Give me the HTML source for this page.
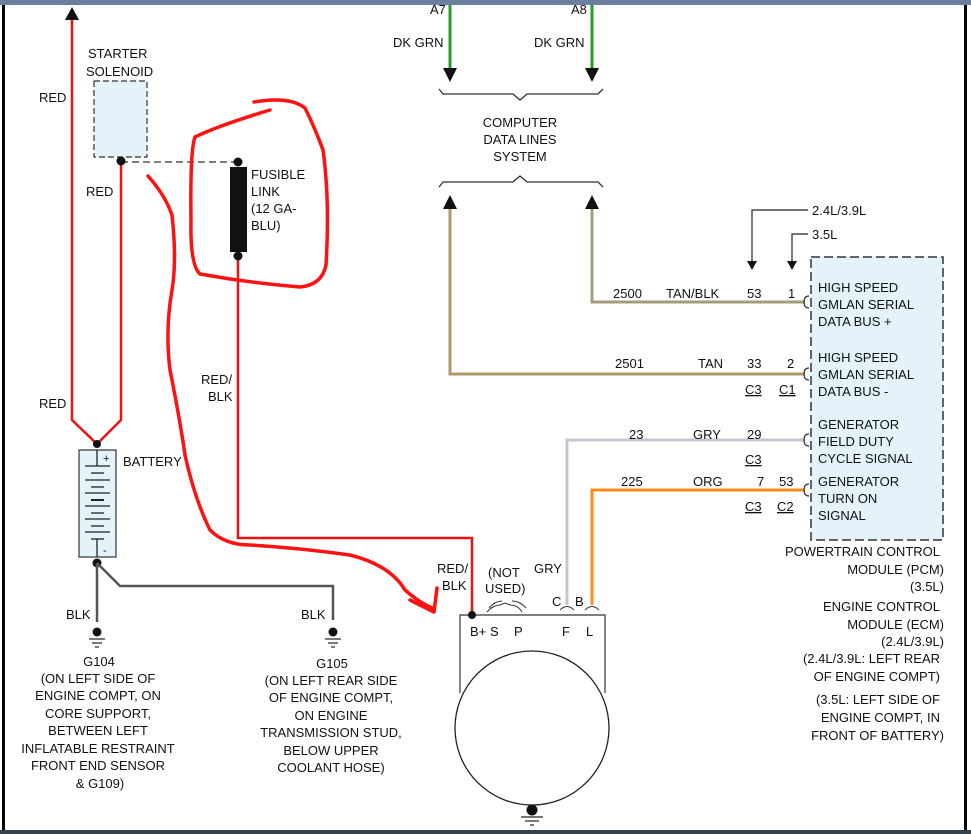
<!DOCTYPE html>
<html><head><meta charset="utf-8"><style>
body{margin:0;background:#fff;}
svg{display:block;font-family:"Liberation Sans",Arial,sans-serif;font-size:13px;fill:#111;}
</style></head><body>
<svg width="971" height="834" viewBox="0 0 971 834">
<rect x="0" y="0" width="971" height="5" fill="#6b7f9f"/>
<rect x="0" y="830" width="971" height="4" fill="#34404c"/>
<rect x="2" y="5" width="3" height="825" fill="#000"/>
<rect x="964" y="5" width="3" height="825" fill="#000"/>
<!-- green -->
<g stroke="#2a9a2a" stroke-width="3"><line x1="450" y1="5" x2="450" y2="70"/><line x1="592" y1="5" x2="592" y2="70"/></g>
<polygon points="443,68 457,68 450,82"/><polygon points="585,68 599,68 592,82"/>
<text x="430" y="14">A7</text><text x="571" y="14">A8</text>
<text x="393" y="47">DK GRN</text><text x="534" y="47">DK GRN</text>
<g fill="none" stroke="#333" stroke-width="1.3">
<path d="M439,89 L443,94 L513,94 L520,100 L527,94 L598,94 L603,89"/>
<path d="M439,187 L443,182 L513,182 L520,176 L527,182 L598,182 L603,187"/>
</g>
<text x="520" y="127" text-anchor="middle">COMPUTER</text>
<text x="520" y="144" text-anchor="middle">DATA LINES</text>
<text x="520" y="161" text-anchor="middle">SYSTEM</text>
<!-- tan wires -->
<polygon points="443,209 457,209 450,195"/><polygon points="585,209 599,209 592,195"/>
<g fill="none" stroke-width="3">
<path d="M450,209 L450,374 L805,374" stroke="#b09a6a"/>
<path d="M592,209 L592,302 L805,302" stroke="#a89a78"/>
<path d="M567,605 L567,440 L805,440" stroke="#c8c4d0"/>
<path d="M592,605 L592,490 L805,490" stroke="#ff8c1a"/>
</g>
<!-- pointers -->
<g fill="none" stroke="#222" stroke-width="1.2"><path d="M808,210 L752,210 L752,262"/><path d="M808,234 L792,234 L792,262"/></g>
<polygon points="747,261 757,261 752,270"/><polygon points="787,261 797,261 792,270"/>
<text x="812" y="215">2.4L/3.9L</text><text x="812" y="239">3.5L</text>
<!-- PCM -->
<rect x="811" y="257" width="132" height="283" fill="#e4f2fa" stroke="#333" stroke-width="1.5" stroke-dasharray="9,4"/>
<g fill="none" stroke="#333" stroke-width="1.2">
<path d="M809,296 Q804,296 804,302 Q804,308 809,308"/><path d="M809,368 Q804,368 804,374 Q804,380 809,380"/>
<path d="M809,434 Q804,434 804,440 Q804,446 809,446"/><path d="M809,484 Q804,484 804,490 Q804,496 809,496"/>
</g>
<g>
<text x="818" y="292">HIGH SPEED</text><text x="818" y="309">GMLAN SERIAL</text><text x="818" y="326">DATA BUS +</text>
<text x="818" y="362">HIGH SPEED</text><text x="818" y="379">GMLAN SERIAL</text><text x="818" y="396">DATA BUS -</text>
<text x="818" y="429">GENERATOR</text><text x="818" y="446">FIELD DUTY</text><text x="818" y="463">CYCLE SIGNAL</text>
<text x="818" y="486">GENERATOR</text><text x="818" y="503">TURN ON</text><text x="818" y="520">SIGNAL</text>
</g>
<g>
<text x="613" y="298">2500</text><text x="666" y="298">TAN/BLK</text><text x="747" y="298">53</text><text x="788" y="298">1</text>
<text x="615" y="368">2501</text><text x="698" y="368">TAN</text><text x="747" y="368">33</text><text x="787" y="368">2</text>
<text x="745" y="394" text-decoration="underline">C3</text><text x="779" y="394" text-decoration="underline">C1</text>
<text x="629" y="439">23</text><text x="693" y="439">GRY</text><text x="747" y="439">29</text>
<text x="745" y="464" text-decoration="underline">C3</text>
<text x="621" y="486">225</text><text x="693" y="486">ORG</text><text x="757" y="486">7</text><text x="779" y="486">53</text>
<text x="745" y="511" text-decoration="underline">C3</text><text x="777" y="511" text-decoration="underline">C2</text>
</g>
<g text-anchor="end">
<text x="940" y="556">POWERTRAIN CONTROL</text><text x="944" y="574">MODULE (PCM)</text><text x="944" y="591">(3.5L)</text>
<text x="940" y="611">ENGINE CONTROL</text><text x="944" y="629">MODULE (ECM)</text><text x="944" y="646">(2.4L/3.9L)</text>
<text x="940" y="663">(2.4L/3.9L: LEFT REAR</text><text x="940" y="681">OF ENGINE COMPT)</text>
<text x="940" y="704">(3.5L: LEFT SIDE OF</text><text x="940" y="722">ENGINE COMPT, IN</text><text x="944" y="740">FRONT OF BATTERY)</text>
</g>
<!-- left red wires -->
<g fill="none" stroke="#ee1111" stroke-width="2.5">
<path d="M72,18 L72,420 L97,444 L121,420 L121,162"/>
<path d="M238,256 L238,538 L472,538 L472,615"/>
</g>
<polygon points="65,20 79,20 72,7"/>
<text x="39" y="102">RED</text><text x="86" y="196">RED</text><text x="39" y="408">RED</text>
<rect x="94" y="81" width="53" height="76" fill="#e4f2fa" stroke="#333" stroke-width="1.2" stroke-dasharray="6,3"/>
<text x="88" y="58">STARTER</text><text x="86" y="76">SOLENOID</text>
<line x1="121" y1="162" x2="238" y2="162" stroke="#333" stroke-width="1.2" stroke-dasharray="7,4"/>
<circle cx="121" cy="161" r="4.5"/><circle cx="238" cy="162" r="4.5"/>
<rect x="230" y="167" width="17" height="85"/><circle cx="238" cy="256" r="4.5"/>
<text x="251" y="179">FUSIBLE</text><text x="251" y="196">LINK</text><text x="251" y="213">(12 GA-</text><text x="251" y="230">BLU)</text>
<text x="201" y="384">RED/</text><text x="208" y="401">BLK</text>
<!-- battery -->
<rect x="79" y="450" width="37" height="107" fill="#e4f2fa" stroke="#333" stroke-width="1.2"/>
<g stroke="#222" stroke-width="1.3">
<line x1="97" y1="450" x2="97" y2="466"/><line x1="85" y1="466" x2="110" y2="466"/>
<line x1="91" y1="473" x2="104" y2="473"/><line x1="85" y1="480" x2="110" y2="480"/>
<line x1="91" y1="487" x2="104" y2="487"/><line x1="85" y1="493" x2="110" y2="493"/>
<line x1="91" y1="500" x2="104" y2="500" stroke-width="2"/><line x1="85" y1="506" x2="110" y2="506"/>
<line x1="91" y1="513" x2="104" y2="513"/><line x1="85" y1="519" x2="110" y2="519"/>
<line x1="91" y1="526" x2="104" y2="526"/><line x1="85" y1="532" x2="110" y2="532"/>
<line x1="91" y1="539" x2="104" y2="539"/><line x1="97" y1="539" x2="97" y2="557"/>
</g>
<text x="103" y="462" font-size="11">+</text><text x="103" y="554" font-size="11">-</text>
<text x="123" y="466">BATTERY</text>
<circle cx="97" cy="444" r="4"/><circle cx="97" cy="563" r="4.5"/>
<path d="M97,563 L97,622 M97,563 L120,586 L333,586 L333,620" fill="none" stroke="#555" stroke-width="2.5"/>
<text x="66" y="619">BLK</text><text x="301" y="619">BLK</text>
<g stroke="#222" stroke-width="1.2"><line x1="89" y1="639" x2="105" y2="639"/><line x1="92" y1="643" x2="102" y2="643"/><line x1="95" y1="647" x2="99" y2="647"/>
<line x1="325" y1="639" x2="341" y2="639"/><line x1="328" y1="643" x2="338" y2="643"/><line x1="331" y1="647" x2="335" y2="647"/></g>
<circle cx="97" cy="632" r="4.5"/><circle cx="333" cy="632" r="4.5"/>
<g text-anchor="middle">
<text x="99" y="666">G104</text><text x="98" y="683">(ON LEFT SIDE OF</text><text x="98" y="700">ENGINE COMPT, ON</text>
<text x="98" y="718">CORE SUPPORT,</text><text x="98" y="735">BETWEEN LEFT</text><text x="98" y="753">INFLATABLE RESTRAINT</text>
<text x="98" y="770">FRONT END SENSOR</text><text x="100" y="788">&amp; G109)</text>
<text x="332" y="668">G105</text><text x="331" y="685">(ON LEFT REAR SIDE</text><text x="331" y="702">OF ENGINE COMPT,</text>
<text x="331" y="720">ON ENGINE</text><text x="331" y="737">TRANSMISSION STUD,</text><text x="331" y="755">BELOW UPPER</text><text x="331" y="772">COOLANT HOSE)</text>
</g>
<!-- alternator -->
<path d="M460,693 L460,615 L605,615 L605,693" fill="none" stroke="#333" stroke-width="1.2"/>
<circle cx="532" cy="728" r="77" fill="#fff" stroke="#222" stroke-width="1.3"/>
<circle cx="532" cy="810" r="5.5"/>
<g stroke="#222" stroke-width="1.2"><line x1="521" y1="817" x2="543" y2="817"/><line x1="525" y1="821" x2="539" y2="821"/><line x1="530" y1="825" x2="534" y2="825"/></g>
<circle cx="472" cy="615" r="4"/>
<text x="470" y="636">B+</text><text x="490" y="636">S</text><text x="514" y="636">P</text><text x="562" y="636">F</text><text x="586" y="636">L</text>
<g fill="none" stroke="#333" stroke-width="1"><path d="M487,612 Q493,605 500,605 L505,603 L510,605 Q518,605 522,612"/><path d="M489,608 Q495,601 502,601"/><path d="M512,601 Q520,601 526,608"/>
<path d="M560,610 Q567,603 574,610"/><path d="M585,610 Q592,603 599,610"/></g>
<text x="437" y="573">RED/</text><text x="442" y="590">BLK</text>
<text x="488" y="577">(NOT</text><text x="485" y="593">USED)</text>
<text x="534" y="573">GRY</text><text x="552" y="606">C</text><text x="575" y="606">B</text>
<!-- hand-drawn red -->
<g fill="none" stroke="#ff1111" stroke-width="3.5" stroke-linecap="round" stroke-linejoin="round">
<path d="M254,102 Q290,96 305,108 Q315,128 323,150 Q330,200 326,265 Q322,285 300,287 Q250,283 200,274 Q190,265 191,220 Q190,150 195,137 Q220,125 270,110"/>
<path d="M148,176 Q165,195 172,215 Q177,260 172,290 Q165,330 170,370 Q180,420 185,455 Q195,500 210,530 Q225,545 250,545 Q300,548 350,555 Q390,565 405,590 Q420,603 432,608"/>
<path d="M410,600 L434,612 L437,588"/>
</g>
</svg>
</body></html>
